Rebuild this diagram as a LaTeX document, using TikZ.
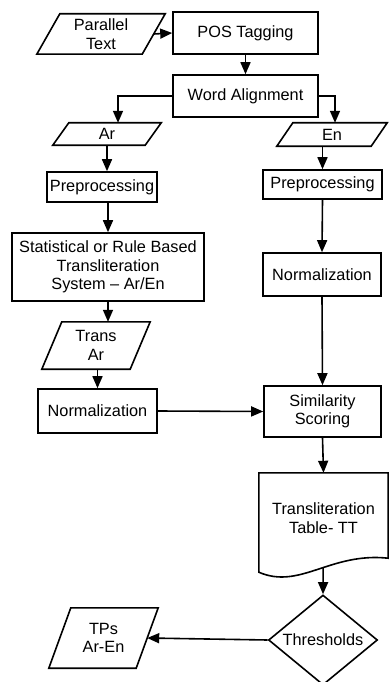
\documentclass[tikz,border=0pt]{standalone}
\usepackage{fontspec}
\setmainfont{Liberation Sans}
\usetikzlibrary{arrows.meta,shapes.geometric,calc}
\tikzset{
  line/.style={line width=1.6pt},
  box/.style={draw,rectangle,line,align=center,inner sep=0pt},
  io/.style={rectangle,align=center,inner sep=0pt},
  arr/.style={line,-{Triangle[length=12pt,width=10pt]}},
}
\newcommand{\iobox}[2]{\draw[line] ([xshift=#2pt]#1.north west) -- (#1.north east) -- ([xshift=-#2pt]#1.south east) -- (#1.south west) -- cycle;}
\newcommand{\ioright}[2]{($(#1.north east)!0.5!([xshift=-#2pt]#1.south east)$)}

\begin{document}
\begin{tikzpicture}[x=1pt,y=-1pt,font=\fontsize{16.3}{18.5}\selectfont]
\useasboundingbox (0,0) rectangle (388,682);
\node[io,minimum width=128pt,minimum height=40pt] (ptext) at (101,34) {Parallel\\Text};
\iobox{ptext}{23}
\node[box,minimum width=145pt,minimum height=42pt] (pos) at (245.5,33) {POS Tagging};
\node[box,minimum width=145pt,minimum height=42pt] (wa) at (245.5,96) {Word Alignment};
\node[io,minimum width=108pt,minimum height=22pt] (ar) at (107,134) {Ar};
\iobox{ar}{16}
\node[io,minimum width=110pt,minimum height=23pt] (en) at (332,134.5) {En};
\iobox{en}{16}
\node[box,minimum width=110pt,minimum height=30pt] (prepar) at (102,187) {Preprocessing};
\node[box,minimum width=119pt,minimum height=29pt] (prepen) at (322.5,184.5) {Preprocessing};
\node[box,minimum width=192pt,minimum height=68pt] (stat) at (108,267) {Statistical or Rule Based\\Transliteration\\System -- Ar/En};
\node[box,minimum width=118pt,minimum height=43pt] (normen) at (322,274.5) {Normalization};
\node[io,minimum width=108pt,minimum height=47pt] (transar) at (96,345.5) {Trans\\Ar};
\iobox{transar}{20}
\node[box,minimum width=119pt,minimum height=44pt] (normar) at (97.5,411) {Normalization};
\node[box,minimum width=117pt,minimum height=51pt] (sim) at (322.5,411.5) {Similarity\\Scoring};
\node[io,minimum width=129pt,minimum height=90pt] (tt) at (323.5,518) {Transliteration\\Table- TT};
\draw[line] (tt.north west) -- (tt.north east) -- ([yshift=5pt]tt.south east)
  .. controls (330,552) and (300,590) .. ([yshift=-9pt]tt.south west) coordinate[pos=0.45] (ttw) -- cycle;
\node[draw,diamond,line,inner sep=0pt,aspect=1.2,minimum width=109pt,minimum height=90pt] (thr) at (323,640) {Thresholds};
\node[io,minimum width=109pt,minimum height=60pt] (tps) at (103.5,638) {TPs\\Ar-En};
\iobox{tps}{22}
\draw[arr] \ioright{ptext}{23} -- (pos.west);
\draw[arr] (pos.south) -- (wa.north);
\draw[arr] (wa.west) -| ([xshift=11pt]ar.north);
\draw[arr] (wa.east) -| ([xshift=3pt]en.north);
\draw[arr] (ar.south) -- (ar.south |- prepar.north);
\draw[arr] (prepen.north |- en.south) -- (prepen.north);
\draw[arr] (stat.north |- prepar.south) -- (stat.north);
\draw[arr] (prepen.south) -- (normen.north);
\draw[arr] (stat.south) -- (stat.south |- transar.north);
\draw[arr] (normar.north |- transar.south) -- (normar.north);
\draw[arr] (normar.east) -- (sim.west);
\draw[arr] (normen.south) -- (sim.north);
\draw[arr] (sim.south) -- (tt.north);
\draw[arr] (ttw) -- (thr.north);
\draw[arr] (thr.west) -- \ioright{tps}{22};
\end{tikzpicture}
\end{document}
